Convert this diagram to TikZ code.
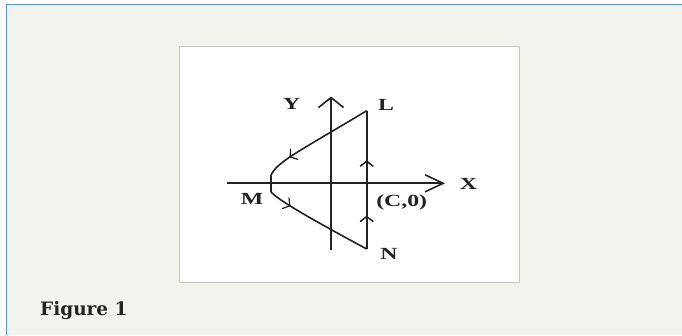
\documentclass[tikz,border=0pt]{standalone}
\usepackage{fontspec}
\setmainfont{Liberation Serif}
\newfontfamily\captionfont{DejaVu Serif}
\usetikzlibrary{arrows.meta,decorations.markings}
\definecolor{panelbg}{RGB}{243,243,238}
\definecolor{panelrule}{RGB}{95,145,225}
\definecolor{boxrule}{RGB}{200,200,200}
\definecolor{ink}{RGB}{35,35,35}
\newcommand\widelabel[1]{\scalebox{1.4}[1]{\textbf{#1}}}
\begin{document}
\begin{tikzpicture}[x=1pt,y=-1pt,
    axis/.style={draw=ink, line width=2pt},
    curve/.style={draw=ink, line width=1.6pt},
    midarrow/.style={postaction={decorate}, decoration={markings,
      mark=at position #1 with {\arrow{Straight Barb[length=5pt,width=13pt,line width=1.2pt]}}}},
    lbl/.style={font=\fontsize{17}{17}\selectfont, text=ink, inner sep=0pt}]
  % page and frame
  \useasboundingbox (0,0) rectangle (682,335);
  \fill[white] (0,0) rectangle (682,335);
  \fill[panelbg] (6,4) rectangle (682,335);
  \draw[panelrule, line width=1pt] (6,335) -- (6,4) -- (682,4);
  \draw[boxrule, line width=1pt, fill=white] (179,46) rectangle (519,282);
  % points
  \coordinate (xl) at (226.7,183.3);
  \coordinate (xr) at (445,183.3);
  \coordinate (yb) at (331,250);
  \coordinate (yt) at (331,96.5);
  \coordinate (L) at (366.7,110.7);
  \coordinate (N) at (366.7,249);
  \coordinate (Mt) at (270.7,176);
  \coordinate (Mb) at (270.7,191.5);
  % axes
  \draw[axis, -{Straight Barb[length=18pt,width=17pt,line width=1.6pt]}] (xl) -- (xr);
  \draw[axis, -{Straight Barb[length=10pt,width=25pt,line width=1.6pt]}] (yb) -- (yt);
  % contour L -> M -> N -> L
  \draw[curve, midarrow=0.77] (L) .. controls (300,151) and (276,162) .. (Mt);
  \draw[curve] (Mt) -- (Mb);
  \draw[curve, midarrow=0.22] (Mb) .. controls (277,199) and (300,213) .. (N);
  \draw[axis, midarrow=0.24, postaction={decorate}, decoration={markings,
      mark=at position 0.64 with {\arrow{Straight Barb[length=5pt,width=13pt,line width=1.2pt]}}}] (N) -- (L);
  % labels
  \node[lbl] (ylbl) at (291.7,103.5) {\widelabel{Y}};
  \node[lbl] (llbl) at (386,105) {\widelabel{L}};
  \node[lbl] (xlbl) at (468.5,183.5) {\widelabel{X}};
  \node[lbl] (mlbl) at (252,198.7) {\widelabel{M}};
  \node[lbl] (clbl) at (401.7,202) {\widelabel{(C,0)}};
  \node[lbl] (nlbl) at (389,254) {\widelabel{N}};
  \node[anchor=base west, inner sep=0pt, text=ink, font=\captionfont\bfseries\fontsize{18.5}{18.5}\selectfont] (cap) at (40,315) {Figure 1};
\end{tikzpicture}
\end{document}
